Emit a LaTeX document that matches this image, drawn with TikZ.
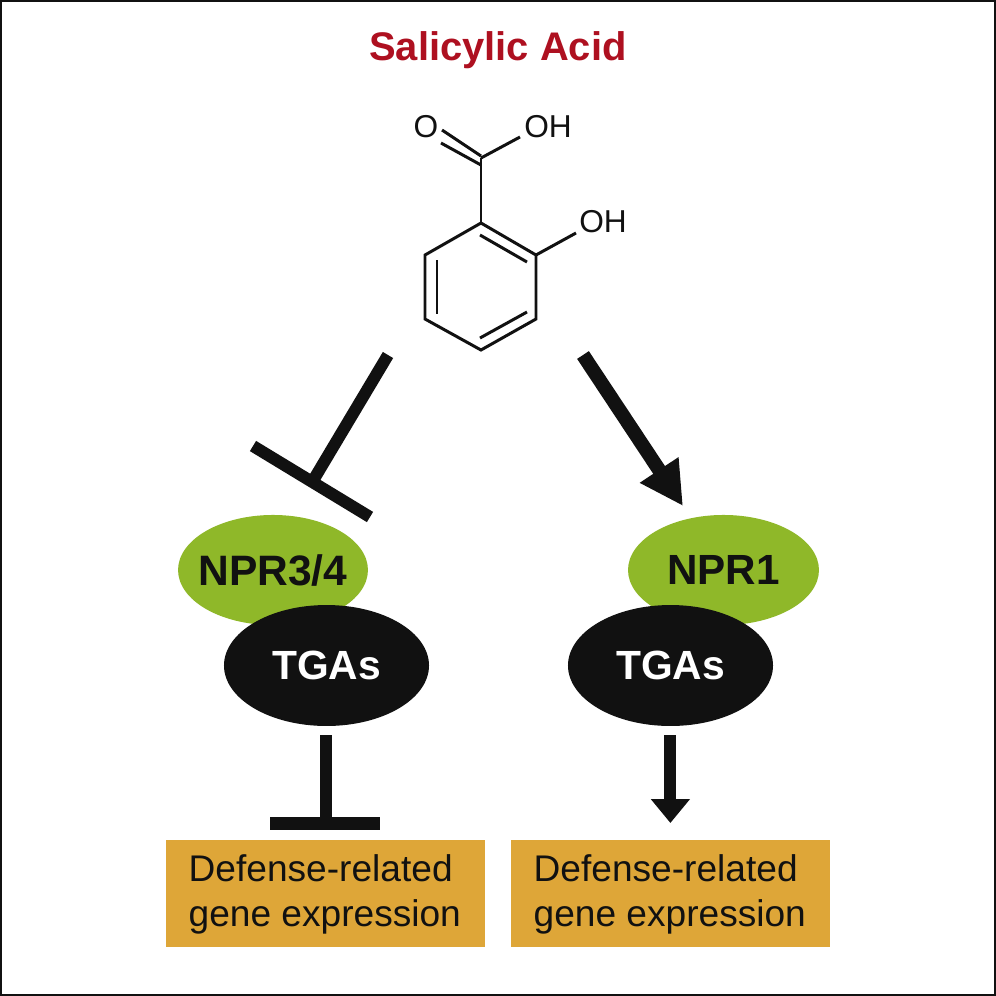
\documentclass[tikz,border=0pt]{standalone}
\usepackage{fontspec}
\setmainfont{Liberation Sans}
\usetikzlibrary{arrows.meta,shapes.geometric}
\definecolor{leafgreen}{HTML}{8FB829}
\definecolor{boxorange}{HTML}{DEA638}
\definecolor{acidred}{HTML}{AE1020}
\definecolor{nearblack}{HTML}{111111}
\tikzset{
  bond/.style={line width=0.85pt,nearblack},
  thick line/.style={line width=3.4pt,nearblack},
  atom/.style={font=\fontsize{9.0}{11}\selectfont,nearblack,inner sep=0pt},
  protein/.style={ellipse,fill=#1,inner sep=0pt},
  outcome/.style={fill=boxorange,minimum width=90.75pt,minimum height=30.4pt,inner sep=0pt},
  outcometext/.style={font=\fontsize{10.55}{12.8}\selectfont,nearblack,align=left,anchor=west,inner sep=0pt},
  bigarrow/.style={-{Triangle[length=12.3pt,width=12.3pt]},nearblack,line width=4pt},
  smallarrow/.style={-{Triangle[length=6.8pt,width=10.7pt]},thick line},
}
\begin{document}
\begin{tikzpicture}[x=0.01cm,y=-0.01cm]
\useasboundingbox (0,0) rectangle (996,996);
\fill[white] (0,0) rectangle (996,996);
\draw[line width=0.7pt,nearblack] (1,1) rectangle (995,995);
% title
\node[font=\fontsize{11.35}{13}\selectfont\bfseries,acidred] (title) at (498,50) {Salicylic Acid};
% ring
\coordinate (c1) at (481,223);
\coordinate (c2) at (536,255);
\coordinate (c3) at (536,319);
\coordinate (c4) at (481,350);
\coordinate (c5) at (425,319);
\coordinate (c6) at (425,255);
\draw[bond,line join=miter] (c1) -- (c2) -- (c3) -- (c4) -- (c5) -- (c6) -- cycle;
\draw[bond] (437,260) -- (437,314);
\draw[bond] (480,235) -- (527,262);
\draw[bond] (480,338) -- (527,312);
% acid group
\coordinate (carbon) at (481,158);
\node[atom] (oxy) at (426,127) {O};
\node[atom] (acidoh) at (548,127) {OH};
\node[atom] (ringoh) at (603,222) {OH};
\draw[bond] (c1) -- (carbon);
\draw[bond] (442,130) -- (481,156);
\draw[bond] (441,143) -- (481,165);
\draw[bond] (carbon) -- (520,137);
\draw[bond] (c2) -- (576,233);
% left branch
\node[protein=leafgreen,minimum width=54pt,minimum height=31.3pt] (nprleft) at (273,570) {};
\node[font=\fontsize{12.1}{14}\selectfont\bfseries,nearblack] at (nprleft) {NPR3/4};
\node[protein=nearblack,minimum width=58.3pt,minimum height=34.4pt] (tgaleft) at (326.5,665.5) {};
\node[font=\fontsize{11.6}{13}\selectfont\bfseries,white] at (tgaleft) {TGAs};
\node[outcome] (geneleft) at (325.5,893.5) {};
\node[outcometext] at (188,894) {Defense-related\\gene expression};
% right branch
\node[protein=leafgreen,minimum width=54.3pt,minimum height=31.3pt] (nprright) at (723.5,570) {};
\node[font=\fontsize{12}{14}\selectfont\bfseries,nearblack] at (nprright) {NPR1};
\node[protein=nearblack,minimum width=58.3pt,minimum height=34.4pt] (tgaright) at (670.5,665.5) {};
\node[font=\fontsize{11.6}{13}\selectfont\bfseries,white] at (tgaright) {TGAs};
\node[outcome] (generight) at (670.5,893.5) {};
\node[outcometext] at (533,894) {Defense-related\\gene expression};
% inhibition from acid
\coordinate (blockstart) at (388,355);
\coordinate (blockend) at (314,479);
\coordinate (blockbara) at (253,446);
\coordinate (blockbarb) at (370,517);
\draw[thick line] (blockstart) -- (blockend);
\draw[thick line] (blockbara) -- (blockbarb);
% activation from acid
\coordinate (pushstart) at (583,355);
\coordinate (pushend) at (683,506);
\draw[bigarrow] (pushstart) -- (pushend);
% inhibition of genes
\coordinate (lowbar) at (326,823.5);
\draw[thick line] (326,735) -- (lowbar);
\draw[line width=3.7pt,nearblack] (270,823.5) -- (380,823.5);
% activation of genes
\coordinate (lowtip) at (670.4,823);
\draw[smallarrow] (670.4,735) -- (lowtip);
\end{tikzpicture}
\end{document}
